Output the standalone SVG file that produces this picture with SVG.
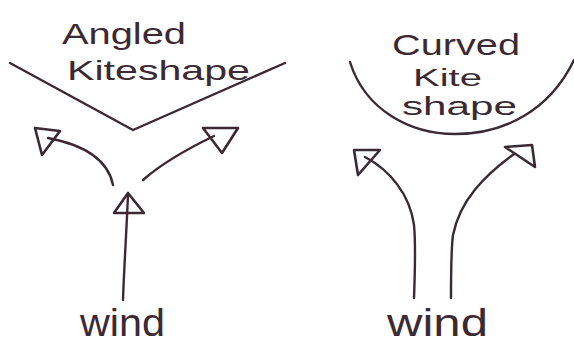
<svg xmlns="http://www.w3.org/2000/svg" width="574" height="345" viewBox="0 0 574 345">
<style>
.ink{fill:none;stroke:#3b2a33;stroke-width:2.4;stroke-linecap:round;stroke-linejoin:round}
.head{fill:none;stroke:#3b2a33;stroke-width:2.6;stroke-linejoin:round}
.lbl{font-family:"Liberation Sans","DejaVu Sans",sans-serif;fill:#3b2a33}
</style>
<rect width="574" height="345" fill="#ffffff"/>
<g id="angled-kite">
<path class="ink" d="M10,63 L133,130 L285,63"/>
<text class="lbl" x="62" y="44" font-size="30" textLength="124" lengthAdjust="spacingAndGlyphs">Angled</text>
<text class="lbl" x="67" y="80" font-size="28" textLength="183" lengthAdjust="spacingAndGlyphs">Kiteshape</text>
</g>
<g id="curved-kite">
<path class="ink" d="M350,62 C365,110 410,134 455,134 C505,134 550,110 574,60"/>
<text class="lbl" x="392" y="55" font-size="30" textLength="128" lengthAdjust="spacingAndGlyphs">Curved</text>
<text class="lbl" x="413" y="86" font-size="23" textLength="69" lengthAdjust="spacingAndGlyphs">Kite</text>
<text class="lbl" x="402" y="115" font-size="26" textLength="115" lengthAdjust="spacingAndGlyphs">shape</text>
</g>
<g id="wind-left">
<text class="lbl" x="80" y="336" font-size="38" textLength="85" lengthAdjust="spacingAndGlyphs">wind</text>
</g>
<g id="wind-right">
<text class="lbl" x="387" y="336" font-size="38" textLength="101" lengthAdjust="spacingAndGlyphs">wind</text>
</g>
<g id="connectors">
<path class="ink" d="M123,300 C124,270 126,240 128,195"/>
<polygon class="head" points="128,193 114,213 144,213"/>
<path class="ink" d="M113,185 C108,160 85,145 48,138"/>
<polygon class="head" points="35,128 60,131 42,155"/>
<path class="ink" d="M143,180 C160,165 185,150 214,136"/>
<polygon class="head" points="203,128 238,128 222,153"/>
<path class="ink" d="M414,298 C415,270 416,245 414,225 C410,195 390,170 365,157"/>
<polygon class="head" points="354,150 380,150 358,175"/>
<path class="ink" d="M451,298 C451,270 451,250 453,235 C460,200 485,175 514,154"/>
<polygon class="head" points="505,147 532,145 535,167"/>
</g>
</svg>
